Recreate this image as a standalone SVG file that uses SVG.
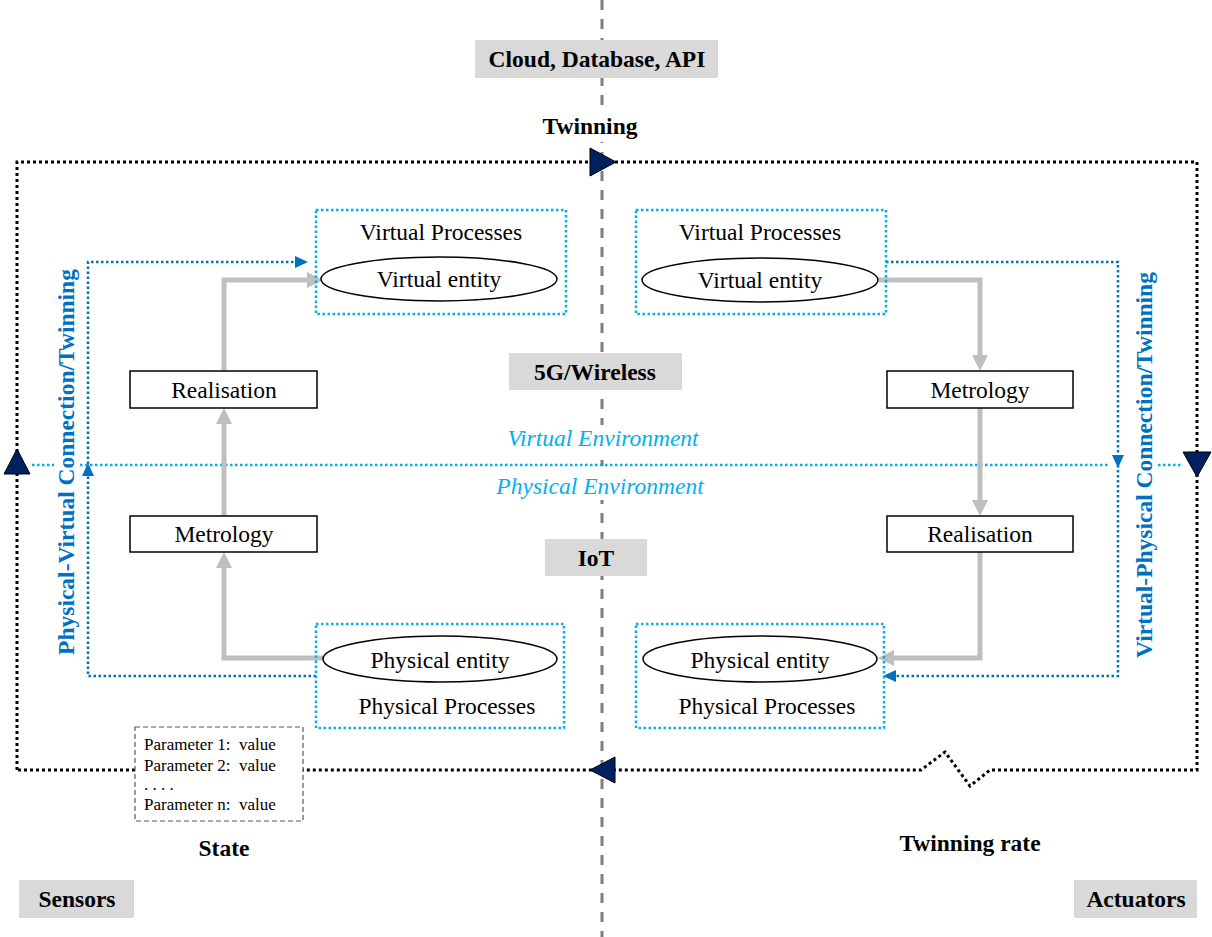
<svg xmlns="http://www.w3.org/2000/svg" width="1212" height="937" viewBox="0 0 1212 937">
<style>
.t{font-family:"Liberation Serif","Times New Roman",serif;font-size:23.5px;fill:#000;text-anchor:middle}
.b{font-weight:bold}
.env{font-style:italic;fill:#00b0f0}
.vt{font-weight:bold;fill:#0070c0}
.p{font-family:"Liberation Serif","Times New Roman",serif;font-size:17px;fill:#000}
.gbox{fill:#d9d9d9}
.box{fill:#fff;stroke:#000;stroke-width:1.5}
.proc{fill:none;stroke:#00b0f0;stroke-width:2.5;stroke-dasharray:2.5 2.5}
.conn{fill:none;stroke:#0070c0;stroke-width:2.5;stroke-dasharray:2.5 2.5}
.loop{fill:none;stroke:#000;stroke-width:3;stroke-dasharray:3 3}
.gray{fill:none;stroke:#bfbfbf;stroke-width:5}
.grayh{fill:#bfbfbf}
.nav{fill:#002060;stroke:#000;stroke-width:1}
.bah{fill:#0070c0}
.ell{fill:#fff;stroke:#000;stroke-width:1.5}
</style>
<rect width="1212" height="937" fill="#fff"/>
<!-- center dashed line -->
<line x1="602" y1="0" x2="602" y2="937" stroke="#7f7f7f" stroke-width="3" stroke-dasharray="10 9"/>
<rect x="535" y="114" width="110" height="28" fill="#fff"/>
<rect x="500" y="425" width="205" height="35" fill="#fff"/>
<rect x="490" y="470" width="220" height="30" fill="#fff"/>

<g id="connectors">
  <!-- outer twinning loop -->
  <path class="loop" d="M17 770 V162 H1197 V770 H990 L970 786 L945 752 L921 770 H303"/>
  <path class="loop" d="M135 770 H17"/>
  <polygon class="nav" points="590,148 590,176 616,162"/>
  <polygon class="nav" points="590,770 615,757 615,783"/>
  <polygon class="nav" points="17,449 4,474 30,474"/>
  <polygon class="nav" points="1197,477 1183,452 1211,452"/>
  <!-- environment divider -->
  <path class="proc" d="M32 465 H54 M80 465 H1108 M1158 465 H1182"/>
  <!-- physical-virtual connection -->
  <path class="conn" d="M316 676 H88 V262 H296"/>
  <polygon class="bah" points="308,262 295,256 295,268"/>
  <polygon class="bah" points="88,463 82,476 94,476"/>
  <!-- virtual-physical connection -->
  <path class="conn" d="M886 262 H1118 V676 H896"/>
  <polygon class="bah" points="883,676 896,670 896,682"/>
  <polygon class="bah" points="1118,468 1112,455 1124,455"/>
  <!-- gray process arrows left -->
  <path class="gray" d="M323 658 H224 V567"/>
  <polygon class="grayh" points="224,552 216,568 232,568"/>
  <path class="gray" d="M224 516 V423"/>
  <polygon class="grayh" points="224,408 216,424 232,424"/>
  <path class="gray" d="M224 371 V280 H307"/>
  <polygon class="grayh" points="323,280 307,272 307,288"/>
  <!-- gray process arrows right -->
  <path class="gray" d="M879 280 H980 V356"/>
  <polygon class="grayh" points="980,371 972,355 988,355"/>
  <path class="gray" d="M980 408 V501"/>
  <polygon class="grayh" points="980,516 972,500 988,500"/>
  <path class="gray" d="M980 552 V658 H894"/>
  <polygon class="grayh" points="878,658 894,650 894,666"/>
</g>

<g id="cloud">
  <rect class="gbox" x="475" y="40" width="243" height="38"/>
  <text class="t b" x="597" y="67">Cloud, Database, API</text>
</g>
<g id="twinning-label"><text class="t b" x="590" y="134">Twinning</text></g>
<g id="wireless">
  <rect class="gbox" x="509" y="353" width="173" height="37"/>
  <text class="t b" x="595" y="380">5G/Wireless</text>
</g>
<g id="iot">
  <rect class="gbox" x="545" y="539" width="102" height="37"/>
  <text class="t b" x="596" y="566">IoT</text>
</g>
<g id="env-labels">
  <text class="t env" x="603" y="446">Virtual Environment</text>
  <text class="t env" x="600" y="494">Physical Environment</text>
</g>

<g id="virtual-processes-left">
  <rect class="proc" x="316" y="210" width="250" height="104"/>
  <text class="t" x="441" y="240">Virtual Processes</text>
  <ellipse class="ell" cx="439" cy="279" rx="118" ry="22"/>
  <text class="t" x="439" y="287">Virtual entity</text>
</g>
<g id="virtual-processes-right">
  <rect class="proc" x="636" y="210" width="250" height="104"/>
  <text class="t" x="760" y="240">Virtual Processes</text>
  <ellipse class="ell" cx="760" cy="280" rx="118" ry="22"/>
  <text class="t" x="760" y="288">Virtual entity</text>
</g>
<g id="physical-processes-left">
  <rect class="proc" x="316" y="624" width="248" height="104"/>
  <ellipse class="ell" cx="440" cy="659" rx="117" ry="23"/>
  <text class="t" x="440" y="668">Physical entity</text>
  <text class="t" x="447" y="714">Physical Processes</text>
</g>
<g id="physical-processes-right">
  <rect class="proc" x="636" y="624" width="248" height="104"/>
  <ellipse class="ell" cx="760" cy="659" rx="117" ry="23"/>
  <text class="t" x="760" y="668">Physical entity</text>
  <text class="t" x="767" y="714">Physical Processes</text>
</g>

<g id="realisation-left">
  <rect class="box" x="130" y="371" width="187" height="37"/>
  <text class="t" x="224" y="398">Realisation</text>
</g>
<g id="metrology-left">
  <rect class="box" x="130" y="516" width="187" height="36"/>
  <text class="t" x="224" y="542">Metrology</text>
</g>
<g id="metrology-right">
  <rect class="box" x="887" y="371" width="186" height="37"/>
  <text class="t" x="980" y="398">Metrology</text>
</g>
<g id="realisation-right">
  <rect class="box" x="887" y="516" width="186" height="36"/>
  <text class="t" x="980" y="542">Realisation</text>
</g>

<g id="pv-label">
  <text class="t vt" transform="translate(74,462) rotate(-90)">Physical-Virtual Connection/Twinning</text>
</g>
<g id="vp-label">
  <text class="t vt" transform="translate(1152,465) rotate(-90)">Virtual-Physical Connection/Twinning</text>
</g>

<g id="state">
  <rect x="135" y="727" width="168" height="94" fill="#fff" stroke="#595959" stroke-width="1.2" stroke-dasharray="5 3"/>
  <text class="p" x="144" y="750">Parameter 1:&#160; value</text>
  <text class="p" x="144" y="771">Parameter 2:&#160; value</text>
  <text class="p" x="144" y="790">. . . .</text>
  <text class="p" x="144" y="810">Parameter n:&#160; value</text>
  <text class="t b" x="224" y="856">State</text>
</g>
<g id="twinning-rate"><text class="t b" x="970" y="851">Twinning rate</text></g>
<g id="sensors">
  <rect class="gbox" x="19" y="880" width="115" height="38"/>
  <text class="t b" x="77" y="907">Sensors</text>
</g>
<g id="actuators">
  <rect class="gbox" x="1074" y="880" width="123" height="38"/>
  <text class="t b" x="1136" y="907">Actuators</text>
</g>
</svg>
